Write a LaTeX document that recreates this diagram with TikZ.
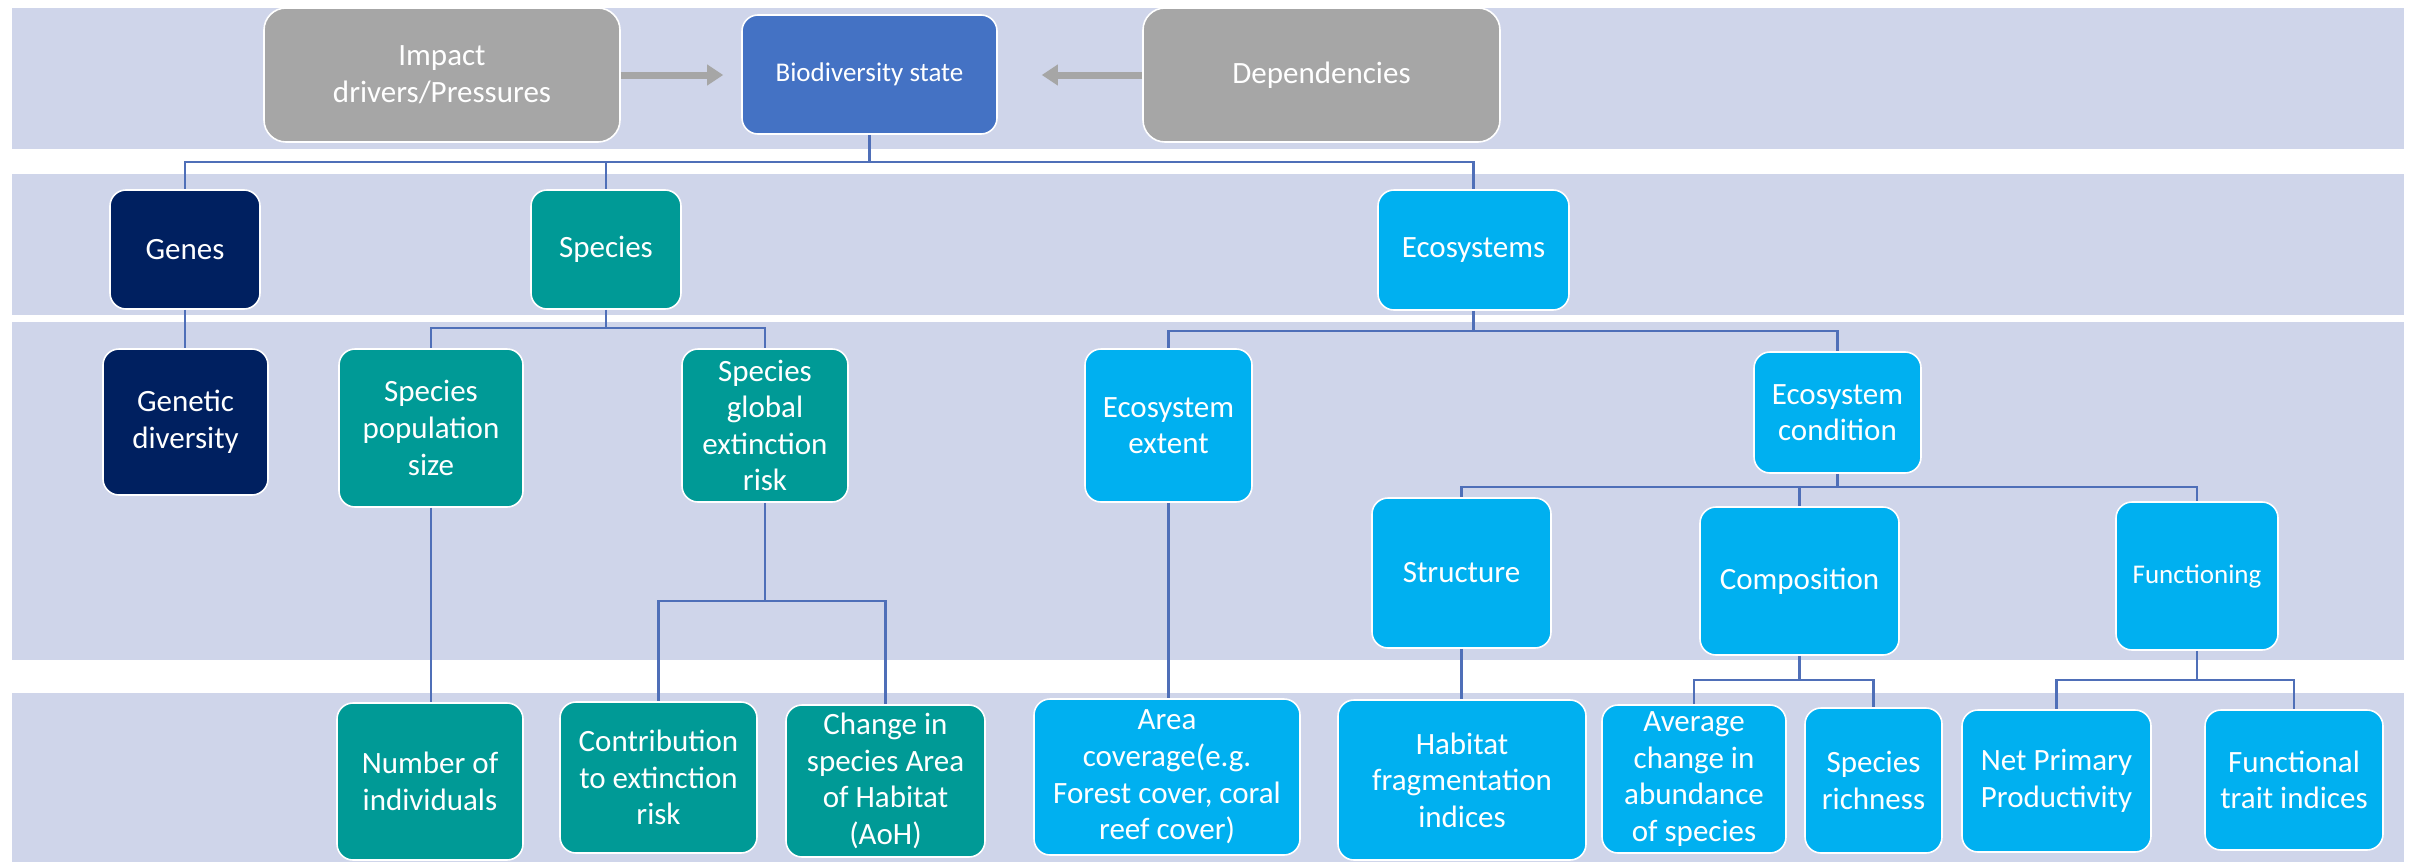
\documentclass[tikz,border=0pt]{standalone}
\usepackage{fontspec}
\setmainfont{Carlito}
\usetikzlibrary{arrows.meta}
\definecolor{bandc}{HTML}{CFD5EA}
\definecolor{navyc}{HTML}{002060}
\definecolor{tealc}{HTML}{009A96}
\definecolor{cyanc}{HTML}{00B0F0}
\definecolor{grayc}{HTML}{A6A6A6}
\definecolor{bluec}{HTML}{4472C4}
\definecolor{linec}{HTML}{4F6FB8}
\tikzset{
  box/.style={rounded corners=8pt, draw=white, line width=0.8pt, text=white, align=center, inner sep=0pt, font=\fontsize{15.5}{18.3}\selectfont},
  gbox/.style={box, fill=grayc, rounded corners=11pt},
  bbox/.style={box, fill=bluec, font=\fontsize{13.5}{16}\selectfont},
  nbox/.style={box, fill=navyc},
  tbox/.style={box, fill=tealc},
  cbox/.style={box, fill=cyanc},
  conn/.style={draw=linec, line width=1.1pt},
  garrow/.style={draw=grayc, line width=3.5pt, -{Triangle[length=8pt,width=10pt]}},
  band/.style={fill=bandc, draw=none}
}
\begin{document}
\begin{tikzpicture}[x=0.5pt,y=-0.5pt]
\useasboundingbox (0,0) rectangle (2409,862);
% bands
\fill[band] (12,8) rectangle (2404,149);
\fill[band] (12,174) rectangle (2404,315);
\fill[band] (12,322) rectangle (2404,660);
\fill[band] (12,693) rectangle (2404,862);

% row 1
\node[gbox, minimum width=178pt, minimum height=67pt] (imp) at (442,75) {Impact\\drivers/Pressures};
\node[bbox, minimum width=127.5pt, minimum height=59.5pt] (bio) at (869.5,74.5) {Biodiversity state};
\node[gbox, minimum width=178.5pt, minimum height=67pt] (dep) at (1321.5,75) {Dependencies};

% row 2
\node[nbox, minimum width=75pt, minimum height=59.5pt] (genes) at (185,249.5) {Genes};
\node[tbox, minimum width=75pt, minimum height=59.5pt] (species) at (606,249.5) {Species};
\node[cbox, minimum width=95.5pt, minimum height=60pt] (eco) at (1473.5,250) {Ecosystems};

% row 3
\node[nbox, minimum width=82.5pt, minimum height=73pt] (gendiv) at (185.5,422) {Genetic\\diversity};
\node[tbox, minimum width=92pt, minimum height=79pt] (popsize) at (431,428) {Species\\population\\size};
\node[tbox, minimum width=83pt, minimum height=76.5pt] (extrisk) at (765,425.5) {Species\\global\\extinction\\risk};
\node[cbox, minimum width=83.5pt, minimum height=76.5pt] (ecoext) at (1168.5,425.5) {Ecosystem\\extent};
\node[cbox, minimum width=83.5pt, minimum height=60.5pt] (ecocond) at (1837.5,412.5) {Ecosystem\\condition};
\node[cbox, minimum width=89.5pt, minimum height=75pt] (struct) at (1461.5,573) {Structure};
\node[cbox, minimum width=99.5pt, minimum height=74pt] (comp) at (1799.5,581) {Composition};
\node[cbox, minimum width=81pt, minimum height=74pt, font=\fontsize{13.5}{16}\selectfont] (func) at (2197,576) {Functioning};

% row 4
\node[tbox, minimum width=93pt, minimum height=78.5pt] (numind) at (430,781.5) {Number of\\individuals};
\node[tbox, minimum width=98.5pt, minimum height=75.5pt] (contrib) at (658.5,777.5) {Contribution\\to extinction\\risk};
\node[tbox, minimum width=99.5pt, minimum height=76pt] (change) at (885.5,781) {Change in\\species Area\\of Habitat\\(AoH)};
\node[cbox, minimum width=133pt, minimum height=78pt] (area) at (1167,777) {Area\\coverage(e.g.\\Forest cover, coral\\reef cover)};
\node[cbox, minimum width=124pt, minimum height=80pt] (habitat) at (1462,780) {Habitat\\fragmentation\\indices};
\node[cbox, minimum width=92pt, minimum height=74pt] (avgch) at (1694,779) {Average\\change in\\abundance\\of species};
\node[cbox, minimum width=68.5pt, minimum height=72.5pt] (rich) at (1873.5,780.5) {Species\\richness};
\node[cbox, minimum width=94.5pt, minimum height=71pt] (npp) at (2056.5,781) {Net Primary\\Productivity};
\node[cbox, minimum width=89pt, minimum height=70pt] (fti) at (2294,780) {Functional\\trait indices};

% arrows
\draw[garrow, shorten >=9pt] (imp.east) -- (imp.east -| bio.west);
\draw[garrow, shorten >=22pt] (dep.west) -- (dep.west -| bio.east);

% bus coordinates
\coordinate (b1) at (0,162);
\coordinate (b2) at (0,328);
\coordinate (b3) at (0,331);
\coordinate (b4) at (0,487);
\coordinate (b5) at (0,601);
\coordinate (b6) at (0,680);

% connectors
\draw[conn] (bio.south) -- (bio.south |- b1) -| (genes.north);
\draw[conn] (bio.south |- b1) -| (species.north);
\draw[conn] (bio.south |- b1) -| (eco.north);

\draw[conn] (genes.south) -- (genes.south |- gendiv.north);
\draw[conn] (species.south) -- (species.south |- b2) -| (popsize.north);
\draw[conn] (species.south |- b2) -| (extrisk.north);
\draw[conn] (eco.south) -- (eco.south |- b3) -| (ecoext.north);
\draw[conn] (eco.south |- b3) -| (ecocond.north);

\draw[conn] (ecocond.south) -- (ecocond.south |- b4) -| (struct.north);
\draw[conn] (ecocond.south |- b4) -| (comp.north);
\draw[conn] (ecocond.south |- b4) -| (func.north);

\draw[conn] (popsize.south) -- (popsize.south |- numind.north);
\draw[conn] (extrisk.south) -- (extrisk.south |- b5) -| (contrib.north);
\draw[conn] (extrisk.south |- b5) -| (change.north);
\draw[conn] (ecoext.south) -- (ecoext.south |- area.north);
\draw[conn] (struct.south) -- (struct.south |- habitat.north);
\draw[conn] (comp.south) -- (comp.south |- b6) -| (avgch.north);
\draw[conn] (comp.south |- b6) -| (rich.north);
\draw[conn] (func.south) -- (func.south |- b6) -| (npp.north);
\draw[conn] (func.south |- b6) -| (fti.north);
\end{tikzpicture}
\end{document}
